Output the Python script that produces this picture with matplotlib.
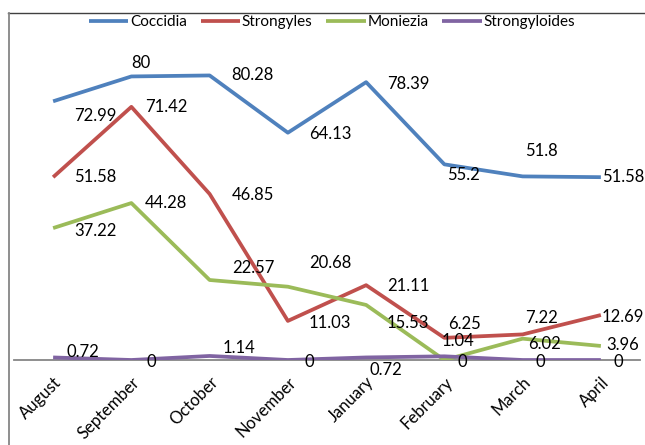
import matplotlib
matplotlib.use('Agg')
import matplotlib.pyplot as plt
from matplotlib.lines import Line2D

# --- data ---
months = ["August", "September", "October", "November",
          "January", "February", "March", "April"]
coccidia = [72.99, 80, 80.28, 64.13, 78.39, 55.2, 51.8, 51.58]
strongyles = [51.58, 71.42, 46.85, 11.03, 21.11, 6.25, 7.22, 12.69]
moniezia = [37.22, 44.28, 22.57, 20.68, 15.53, 0, 6.02, 3.96]
strongyloides = [0.72, 0, 1.14, 0, 0.72, 1.04, 0, 0]

series = [
    ("Coccidia", coccidia, '#4F81BD'),
    ("Strongyles", strongyles, '#C0504D'),
    ("Moniezia", moniezia, '#9BBB59'),
    ("Strongyloides", strongyloides, '#8064A2'),
]

# label offsets in pixels (dx, dy) per point, roughly as Excel placed them
label_offsets = {
    "Coccidia": [(42, -15), (10, 13), (43, 0), (42, -1), (42, -2), (19, -11), (19, 25), (22, 0)],
    "Strongyles": [(42, 0), (35, 0), (43, -1), (42, -2), (42, -1), (20, 14), (19, 16), (22, -2)],
    "Moniezia": [(42, -3), (35, 0), (44, 12), (42, 24), (42, -18), (18, -2), (22, -5), (22, 1)],
    "Strongyloides": [(30, 5), (20, -2), (29, 8), (21, -2), (20, -13), (14, 15), (18, -2), (17, -2)],
}

W, H = 645, 445
fig = plt.figure(figsize=(W / 100, H / 100), dpi=100)
fig.patch.set_facecolor('white')
plt.rcParams['font.family'] = ['Lato', 'DejaVu Sans']

x0, x1 = 14, 640
y_zero, y_top = 360, 41
ax = fig.add_axes([x0 / W, (H - y_zero) / H, (x1 - x0) / W, (y_zero - y_top) / H])
ax.set_facecolor('none')

xs = list(range(len(months)))
for name, vals, col in series:
    ax.plot(xs, vals, color=col, linewidth=2.7, solid_capstyle='butt',
            label=name, zorder=3)
    for x, v, (dx, dy) in zip(xs, vals, label_offsets[name]):
        lab = f"{v:g}"
        ax.annotate(lab, (x, v), xytext=(dx, dy), textcoords='offset pixels',
                    ha='center', va='center', fontsize=12, color='black',
                    zorder=4)

ax.set_xlim(-0.5, len(months) - 0.5)
ax.set_ylim(0, 90)
ax.set_yticks([])
ax.set_xticks(xs)
ax.set_xticklabels(months, rotation=45, ha='right', rotation_mode='anchor',
                   fontsize=12)
ax.tick_params(axis='x', length=0, pad=10)
for s in ['top', 'right', 'left']:
    ax.spines[s].set_visible(False)
ax.spines['bottom'].set_color('#868686')
ax.spines['bottom'].set_linewidth(1.3)
ax.spines['bottom'].set_zorder(2)

leg = fig.legend(loc='center', bbox_to_anchor=(332 / W, 1 - 22 / H),
                 ncol=4, frameon=False, fontsize=11, handlelength=2.6,
                 handletextpad=0.1, columnspacing=0.9)

# chart-area border (top and left only visible in the crop)
fig.add_artist(Line2D([8 / W, 1], [1 - 13 / H, 1 - 13 / H], color='#404040',
                      linewidth=1.0, transform=fig.transFigure))
fig.add_artist(Line2D([9 / W, 9 / W], [0, 1 - 13 / H], color='#868686',
                      linewidth=1.3, transform=fig.transFigure))

fig.savefig('out.png', dpi=100)
